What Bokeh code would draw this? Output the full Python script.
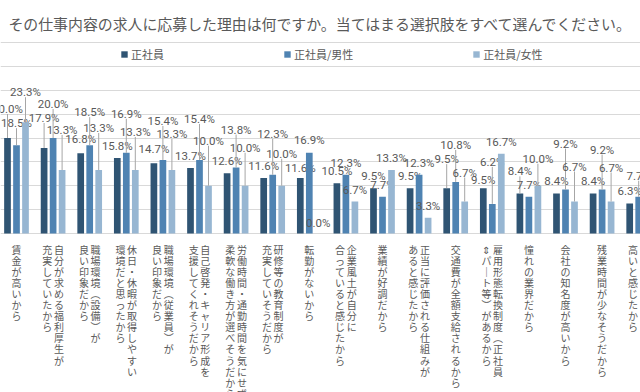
import math
import numpy as np
from bokeh.plotting import figure
from bokeh.models import Range1d, FixedTicker, Grid, Legend, LegendItem, ColumnDataSource
from bokeh.core.properties import value
from bokeh.embed import file_html
from bokeh.resources import INLINE

# ---------------- data ----------------
title_text = "その仕事内容の求人に応募した理由は何ですか。当てはまる選択肢をすべて選んでください。"
series_names = ["正社員", "正社員/男性", "正社員/女性"]

# category labels (vertical writing: first line is the right-hand column)
category_lines = [
    ["賃金が高いから"],
    ["自分が求める福利厚生が", "充実していたから"],
    ["職場環境︵設備︶が", "良い印象だから"],
    ["休日・休暇が取得しやすい", "環境だと思ったから"],
    ["職場環境︵従業員︶が", "良い印象だから"],
    ["自己啓発・キャリア形成を", "支援してくれそうだから"],
    ["労働時間・通勤時間を気にせず", "柔軟な働き方が選べそうだから"],
    ["研修等の教育制度が", "充実していそうだから"],
    ["転勤がないから"],
    ["企業風土が自分に", "合っていると感じたから"],
    ["業績が好調だから"],
    ["正当に評価される仕組みが", "あると感じたから"],
    ["交通費が全額支給されるから"],
    ["雇用形態転換制度︵正社員", "⇕パ｜ト等︶があるから"],
    ["憧れの業界だから"],
    ["会社の知名度が高いから"],
    ["残業時間が少なそうだから"],
    ["", "高いと感じたから"],
]
val_all = [20.0, 17.9, 16.8, 15.8, 14.7, 13.7, 12.6, 11.6, 11.6, 10.5, 9.5, 9.5, 9.5, 9.5, 8.4, 8.4, 8.4, 6.3]
val_male = [18.5, 20.0, 18.5, 16.9, 15.4, 15.4, 13.8, 12.3, 16.9, 12.3, 7.7, 12.3, 10.8, 6.2, 7.7, 9.2, 9.2, 7.7]
val_female = [23.3, 13.3, 13.3, 13.3, 13.3, 10.0, 10.0, 10.0, 0.0, 6.7, 13.3, 3.3, 6.7, 16.7, 10.0, 6.7, 6.7, float("nan")]
grid_ticks = [0, 5, 10, 15, 20, 25, 30, 35, 40]

# ---------------- styling / layout ----------------
colors = ["#2F5473", "#4F83B2", "#97B6D2"]
# how far (px) each data label sits above its bar (Excel callout placement)
lift_all = [29, 30, 14, 12, 14, 12, 12, 12, 10, 12, 12, 12, 29, 8, 22, 12, 12, 12]
lift_male = [22, 34, 33, 39, 39, 41, 38, 41, 13, 12, 12, 12, 37, 42, 12, 46, 40, 21]
lift_female = [30, 40, 42, 38, 36, 45, 38, 32, 11, 12, 12, 12, 29, 12, 27, 35, 34, 12]

W, H = 640, 392
GROUP_PX = 36.6
X0_PX = 16.0        # image x of first group centre
Y0_PX = 233.0       # image y of 0 %
PX_PER_PCT = 4.775


def ximg(px):
    return (px - X0_PX) / GROUP_PX


def yimg(py):
    return (Y0_PX - py) / PX_PER_PCT


p = figure(width=W, height=H, output_backend="svg", toolbar_location=None,
           x_range=Range1d(ximg(0), ximg(W)), y_range=Range1d(yimg(H), yimg(0)),
           x_axis_location=None, y_axis_location=None, min_border=0,
           background_fill_color="white", border_fill_color="white")
p.outline_line_color = None
p.grid.visible = False
p.add_layout(Grid(dimension=1, ticker=FixedTicker(ticks=grid_ticks),
                  grid_line_color="#D9D9D9", grid_line_width=1))

n = len(val_all)
idx = np.arange(n)
step = 9.0 / GROUP_PX
bar_w = 6.7 / GROUP_PX
LABEL_FONT = "'Liberation Sans Narrow', 'Roboto', sans-serif"
JP_FONT = "Noto Sans CJK JP"

renderers = []
for s, (vals, lifts) in enumerate([(val_all, lift_all), (val_male, lift_male), (val_female, lift_female)]):
    xs = idx + (s - 1) * step
    src = ColumnDataSource(dict(x=xs, top=vals))
    r = p.vbar(x="x", top="top", bottom=0, width=bar_w, source=src,
               fill_color=colors[s], line_color=None)
    renderers.append(r)
    lx, ly, lt, lo = [], [], [], []
    sx0, sy0, sy1 = [], [], []
    for i, v in enumerate(vals):
        if isinstance(v, float) and math.isnan(v):
            continue
        lx.append(xs[i]); ly.append(v); lt.append(f"{v:.1f}%"); lo.append(-lifts[i])
        if lifts[i] > 16:
            sx0.append(xs[i]); sy0.append(v); sy1.append(v + (lifts[i] - 5) / PX_PER_PCT)
    p.segment(x0=sx0, y0=sy0, x1=sx0, y1=sy1, line_color="#A6A6A6", line_width=1)
    p.text(x=lx, y=ly, text=lt, y_offset=lo, text_align="center", text_baseline="middle",
           text_font=value(LABEL_FONT), text_font_size="11.5px", text_color="#595959")

# category labels, vertical
cx, cy, ct = [], [], []
for i, lines in enumerate(category_lines):
    if len(lines) == 1:
        offs = [0.0]
    else:
        offs = [5.8, -5.8]
    for line, o in zip(lines, offs):
        if not line:
            continue
        cx.append(i + o / GROUP_PX)
        cy.append(yimg(241))
        ct.append("\n".join(line))
p.text(x=cx, y=cy, text=ct, text_align="center", text_baseline="top",
       text_font=value(JP_FONT), text_font_size="10px", text_line_height=0.74, text_color="#595959")

# title
p.text(x=[ximg(320.5)], y=[yimg(22.7)], text=[title_text], text_align="center",
       text_baseline="middle", text_font=value(JP_FONT), text_font_size="14.9px", text_color="#595959")

legend = Legend(items=[LegendItem(label=series_names[k], renderers=[renderers[k]]) for k in range(3)],
                orientation="horizontal", location=(120, 330), padding=0, margin=0,
                spacing=119, label_standoff=3, glyph_width=8, glyph_height=8,
                label_height=12, label_text_font=JP_FONT, label_text_font_size="11px",
                label_text_color="#595959", border_line_color=None, background_fill_alpha=0)
p.add_layout(legend)

open("out.html", "w").write(file_html(p, INLINE))
